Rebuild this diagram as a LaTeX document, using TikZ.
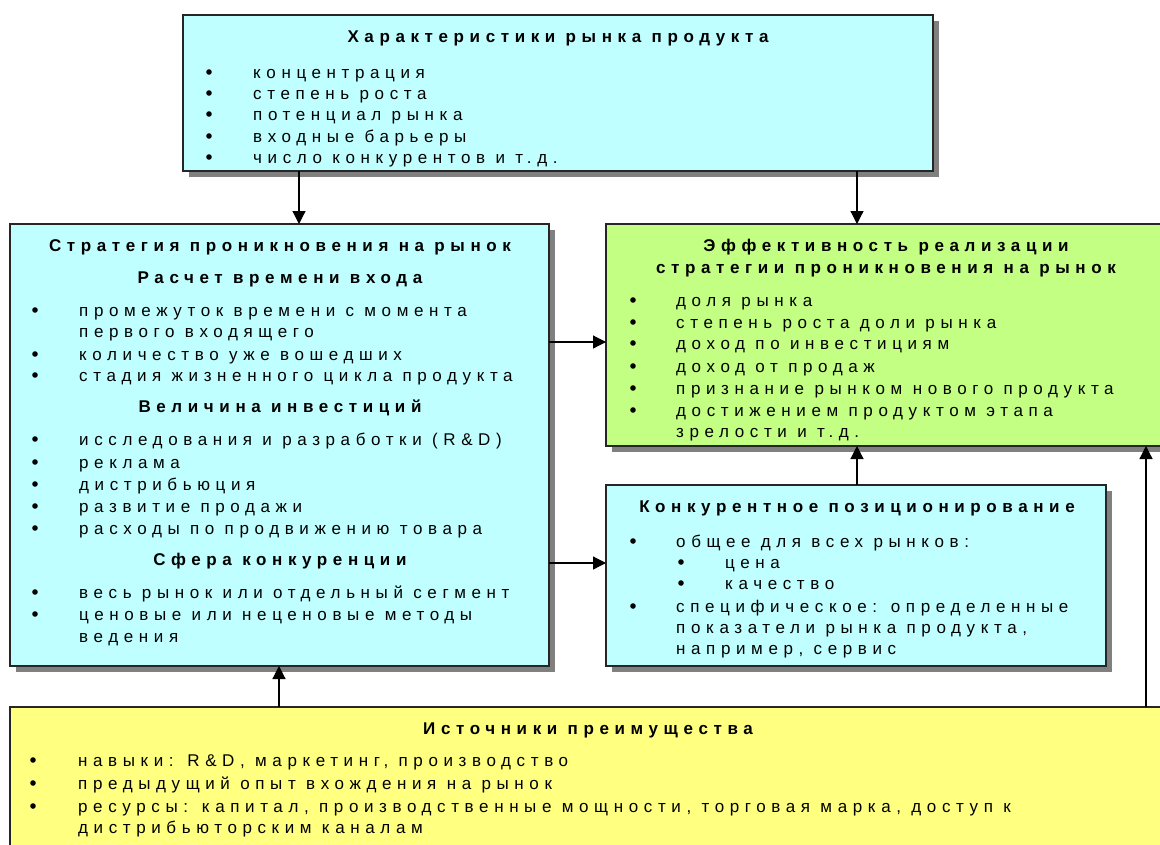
\documentclass[tikz,border=0pt]{standalone}
\usepackage{fontspec}
\usetikzlibrary{arrows.meta,shadows}
\newfontfamily\rf[LetterSpace=33]{Liberation Sans}
\definecolor{cyanbox}{RGB}{192,255,255}
\definecolor{greenbox}{RGB}{194,255,130}
\definecolor{yellowbox}{RGB}{255,255,128}
\newcounter{tn}
\newcommand\tx[3]{\stepcounter{tn}\node[txt] (t\arabic{tn}) at (#1,#2+6) {#3};}
\newcommand\hd[3]{\stepcounter{tn}\node[head] (t\arabic{tn}) at (#1,#2+6) {#3};}
\newcommand\bl[2]{\fill (#1,#2) circle[radius=2.8pt];}
\begin{document}
\begin{tikzpicture}[x=1pt,y=-1pt,
  box/.style={draw=black!85, line width=1.2pt, inner sep=0pt, outer sep=0pt, anchor=north west,
    general shadow={fill=black!50, shadow xshift=6pt, shadow yshift=-6pt}},
  arr/.style={line width=1.2pt, -{Triangle[length=13pt,width=13pt]}},
  txt/.style={font=\rf\fontsize{17}{20}\selectfont, anchor=base west, inner sep=0pt},
  head/.style={font=\rf\bfseries\fontsize{17}{20}\selectfont, anchor=base, inner sep=0pt}]
\clip (0,0) rectangle (1160,844);
\fill[white] (0,0) rectangle (1160,844);
% boxes
\node[box, fill=cyanbox, minimum width=750pt, minimum height=156pt] (top) at (183,15) {};
\node[box, fill=cyanbox, minimum width=539pt, minimum height=442pt] (left) at (10,224) {};
\node[box, fill=greenbox, minimum width=580pt, minimum height=222pt] (eff) at (606,224) {};
\node[box, fill=cyanbox, minimum width=500pt, minimum height=181pt] (pos) at (606,485) {};
\node[box, fill=yellowbox, minimum width=1170pt, minimum height=160pt] (src) at (10,707) {};
% connector columns
\coordinate (ca) at (299,0);
\coordinate (cb) at (857,0);
\coordinate (cc) at (279,0);
\coordinate (cd) at (1146,0);
\coordinate (ra) at (0,342);
\coordinate (rb) at (0,563);
\draw[arr] (top.south -| ca) -- (left.north -| ca);
\draw[arr] (top.south -| cb) -- (eff.north -| cb);
\draw[arr] (left.east |- ra) -- (eff.west |- ra);
\draw[arr] (left.east |- rb) -- (pos.west |- rb);
\draw[arr] (pos.north -| cb) -- (eff.south -| cb);
\draw[arr] (src.north -| cc) -- (left.south -| cc);
\draw[arr] (src.north -| cd) -- (eff.south -| cd);
% top box text
\hd{558}{36}{Характеристики рынка продукта}
\bl{209}{72}\tx{253}{72}{концентрация}
\bl{209}{93}\tx{253}{93}{степень роста}
\bl{209}{114}\tx{253}{114}{потенциал рынка}
\bl{209}{136}\tx{253}{136}{входные барьеры}
\bl{209}{157}\tx{253}{157}{число конкурентов и т.д.}
% left box text
\hd{280}{245}{Стратегия проникновения на рынок}
\hd{280}{277}{Расчет времени входа}
\bl{35}{310}\tx{79}{310}{промежуток времени с момента}
\tx{79}{331}{первого входящего}
\bl{35}{354}\tx{79}{354}{количество уже вошедших}
\bl{35}{375}\tx{79}{375}{стадия жизненного цикла продукта}
\hd{280}{406}{Величина инвестиций}
\bl{35}{439}\tx{79}{439}{исследования и разработки (R\&D)}
\bl{35}{462}\tx{79}{462}{реклама}
\bl{35}{484}\tx{79}{484}{дистрибьюция}
\bl{35}{506}\tx{79}{506}{развитие продажи}
\bl{35}{528}\tx{79}{528}{расходы по продвижению товара}
\hd{280}{559}{Сфера конкуренции}
\bl{35}{592}\tx{79}{592}{весь рынок или отдельный сегмент}
\bl{35}{614}\tx{79}{614}{ценовые или неценовые методы}
\tx{79}{636}{ведения}
% green box text
\hd{886}{245}{Эффективность реализации}
\hd{886}{267}{стратегии проникновения на рынок}
\bl{633}{300}\tx{676}{300}{доля рынка}
\bl{633}{322}\tx{676}{322}{степень роста доли рынка}
\bl{633}{343}\tx{676}{343}{доход по инвестициям}
\bl{633}{366}\tx{676}{366}{доход от продаж}
\bl{633}{388}\tx{676}{388}{признание рынком нового продукта}
\bl{633}{410}\tx{676}{410}{достижением продуктом этапа}
\tx{676}{431}{зрелости и т.д.}
% positioning box text
\hd{857}{506}{Конкурентное позиционирование}
\bl{633}{541}\tx{676}{541}{общее для всех рынков:}
\bl{681}{562}\tx{725}{562}{цена}
\bl{681}{583}\tx{725}{583}{качество}
\bl{633}{606}\tx{676}{606}{специфическое: определенные}
\tx{676}{627}{показатели рынка продукта,}
\tx{676}{648}{например, сервис}
% sources box text
\hd{588}{728}{Источники преимущества}
\bl{33}{760}\tx{78}{760}{навыки: R\&D, маркетинг, производство}
\bl{33}{783}\tx{78}{783}{предыдущий опыт вхождения на рынок}
\bl{33}{806}\tx{78}{806}{ресурсы: капитал, производственные мощности, торговая марка, доступ к}
\tx{78}{827}{дистрибьюторским каналам}
\end{tikzpicture}
\end{document}
